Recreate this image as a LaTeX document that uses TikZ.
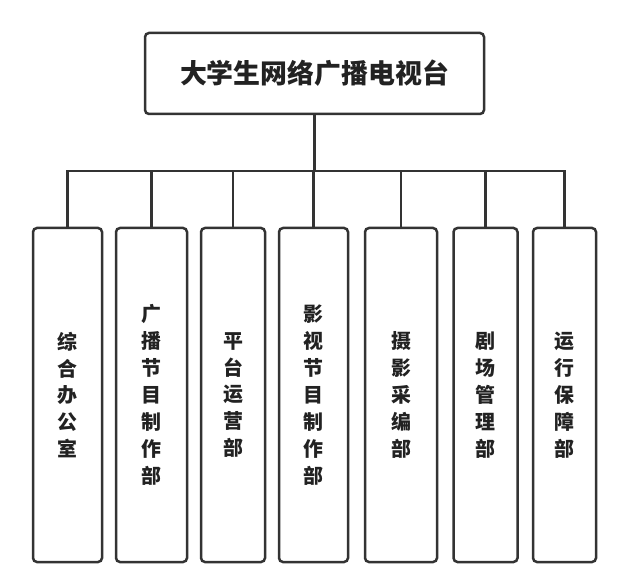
\documentclass[tikz,border=0pt]{standalone}
\usepackage{fontspec}
\newfontfamily\cjk{Noto Sans CJK SC}
\definecolor{ln}{HTML}{333333}
\definecolor{tx}{HTML}{222222}
\tikzset{
  topbox/.style={draw=ln, line width=2.5bp, rounded corners=4bp, minimum width=339bp, minimum height=81bp,
    inner sep=0pt, text=tx, font=\cjk\bfseries\fontsize{27}{32}\selectfont},
  deptbox/.style={draw=ln, line width=2.5bp, rounded corners=4bp, minimum height=334bp,
    inner sep=0pt, align=center, text=tx, font=\cjk\bfseries\fontsize{20}{27}\selectfont},
  conn/.style={draw=ln, line width=2.5bp}
}
\begin{document}
\begin{tikzpicture}[x=1bp,y=-1bp]
\useasboundingbox (0,0) rectangle (630,577);
\node[topbox] (top) at (314.5,73.5) {大学生网络广播电视台};
\node[deptbox, minimum width=69bp] (d1) at (67.5,395) {综\\合\\办\\公\\室};
\node[deptbox, minimum width=71bp] (d2) at (151.5,395) {广\\播\\节\\目\\制\\作\\部};
\node[deptbox, minimum width=64bp] (d3) at (233,395) {平\\台\\运\\营\\部};
\node[deptbox, minimum width=69bp] (d4) at (313.5,395) {影\\视\\节\\目\\制\\作\\部};
\node[deptbox, minimum width=72bp] (d5) at (401,395) {摄\\影\\采\\编\\部};
\node[deptbox, minimum width=64bp] (d6) at (485.5,395) {剧\\场\\管\\理\\部};
\node[deptbox, minimum width=63bp] (d7) at (564.5,395) {运\\行\\保\\障\\部};
\coordinate (bus) at (314.5,171);
\draw[conn] (top.south) -- (bus);
\draw[conn, line cap=rect] (d1.north |- bus) -- (d7.north |- bus);
\foreach \d in {d1,d2,d3,d4,d5,d6,d7}{
  \draw[conn] (\d.north |- bus) -- (\d.north);
}
\end{tikzpicture}
\end{document}
